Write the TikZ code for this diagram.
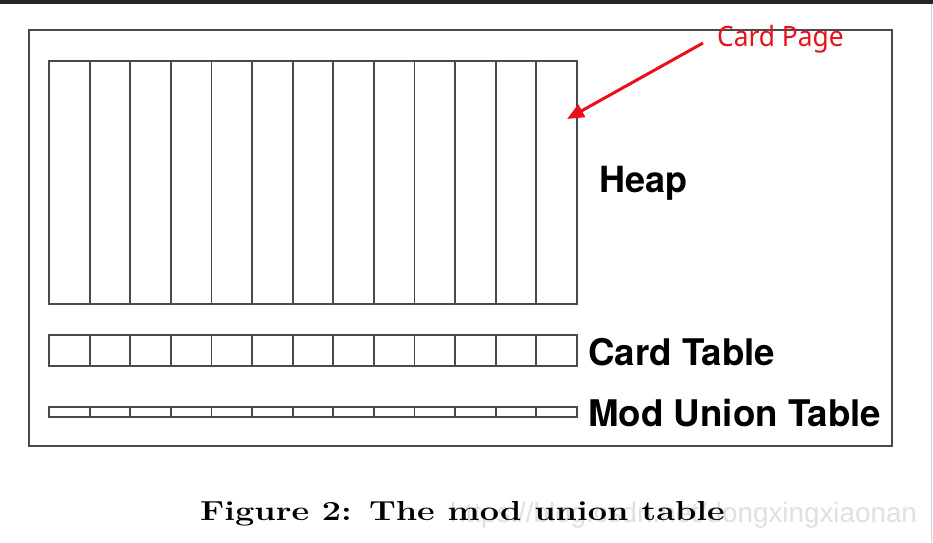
\documentclass[tikz,border=0pt]{standalone}
\usepackage{fontspec}
\setmainfont{Latin Modern Roman}
\newfontfamily\heros{TeX Gyre Heros}
\newfontfamily\notosans{Noto Sans}
\newfontfamily\libsans{Liberation Sans}
\usetikzlibrary{arrows.meta,calc}
\definecolor{gridgray}{HTML}{4A4A4A}
\definecolor{annred}{HTML}{E8101A}
\begin{document}
\begin{tikzpicture}[x=1pt,y=-1pt,
  gridline/.style={draw=gridgray,line width=1.9pt},
  boxnode/.style={gridline,inner sep=0pt,outer sep=0pt,anchor=north west},
  lbl/.style={anchor=base west,inner sep=0pt,font=\heros\bfseries\fontsize{36.7}{40}\selectfont},
  annarrow/.style={draw=annred,line width=3pt,-{Triangle[length=17pt,width=14pt]}}]
\useasboundingbox (0,0) rectangle (933,542);
% page frame traces
\fill[black!85] (0,0) rectangle (933,3.5);
\draw[black!18,line width=1pt] (931.5,3.5) -- (931.5,542);
% outer box
\node[boxnode,minimum width=863pt,minimum height=416pt] (outer) at (29,30) {};
% heap
\node[boxnode,minimum width=528pt,minimum height=243pt] (heap) at (49,61) {};
\foreach \i in {1,...,12}{\draw[gridline] ($(heap.north west)+(\i*40.615,0)$) -- ($(heap.south west)+(\i*40.615,0)$);}
% card table
\node[boxnode,minimum width=528pt,minimum height=31pt] (card) at (49,335) {};
\foreach \i in {1,...,12}{\draw[gridline] ($(card.north west)+(\i*40.615,0)$) -- ($(card.south west)+(\i*40.615,0)$);}
% mod union table
\node[boxnode,minimum width=528pt,minimum height=10pt] (mod) at (49,407) {};
\foreach \i in {1,...,12}{\draw[gridline] ($(mod.north west)+(\i*40.615,0)$) -- ($(mod.south west)+(\i*40.615,0)$);}
% labels
\node[lbl,font=\heros\bfseries\fontsize{36}{40}\selectfont] (heaplbl) at (599,192) {Heap};
\node[lbl] (cardlbl) at (588,365) {Card Table};
\node[lbl] (modlbl) at (588,426) {Mod Union Table};
% annotation
\node[anchor=base west,inner sep=0pt,text=annred,font=\notosans\fontsize{28}{32}\selectfont] (cardpage) at (717,46) {\scalebox{0.94}[1]{Card Page}};
\coordinate (pagetip) at (567,119);
\draw[annarrow] (703,43) -- (pagetip);
% caption and watermark
\node[anchor=base west,inner sep=0pt,text=black!12,font=\libsans\fontsize{27.8}{30}\selectfont] (wm) at (450,522) {https://blog.csdn.net/dongxingxiaonan};
\node[anchor=base west,inner sep=0pt,font=\bfseries\fontsize{27.5}{30}\selectfont] (caption) at (200,520) {\scalebox{1.245}[1]{Figure 2:\hspace{0.5em}The mod union table}};
\end{tikzpicture}
\end{document}
